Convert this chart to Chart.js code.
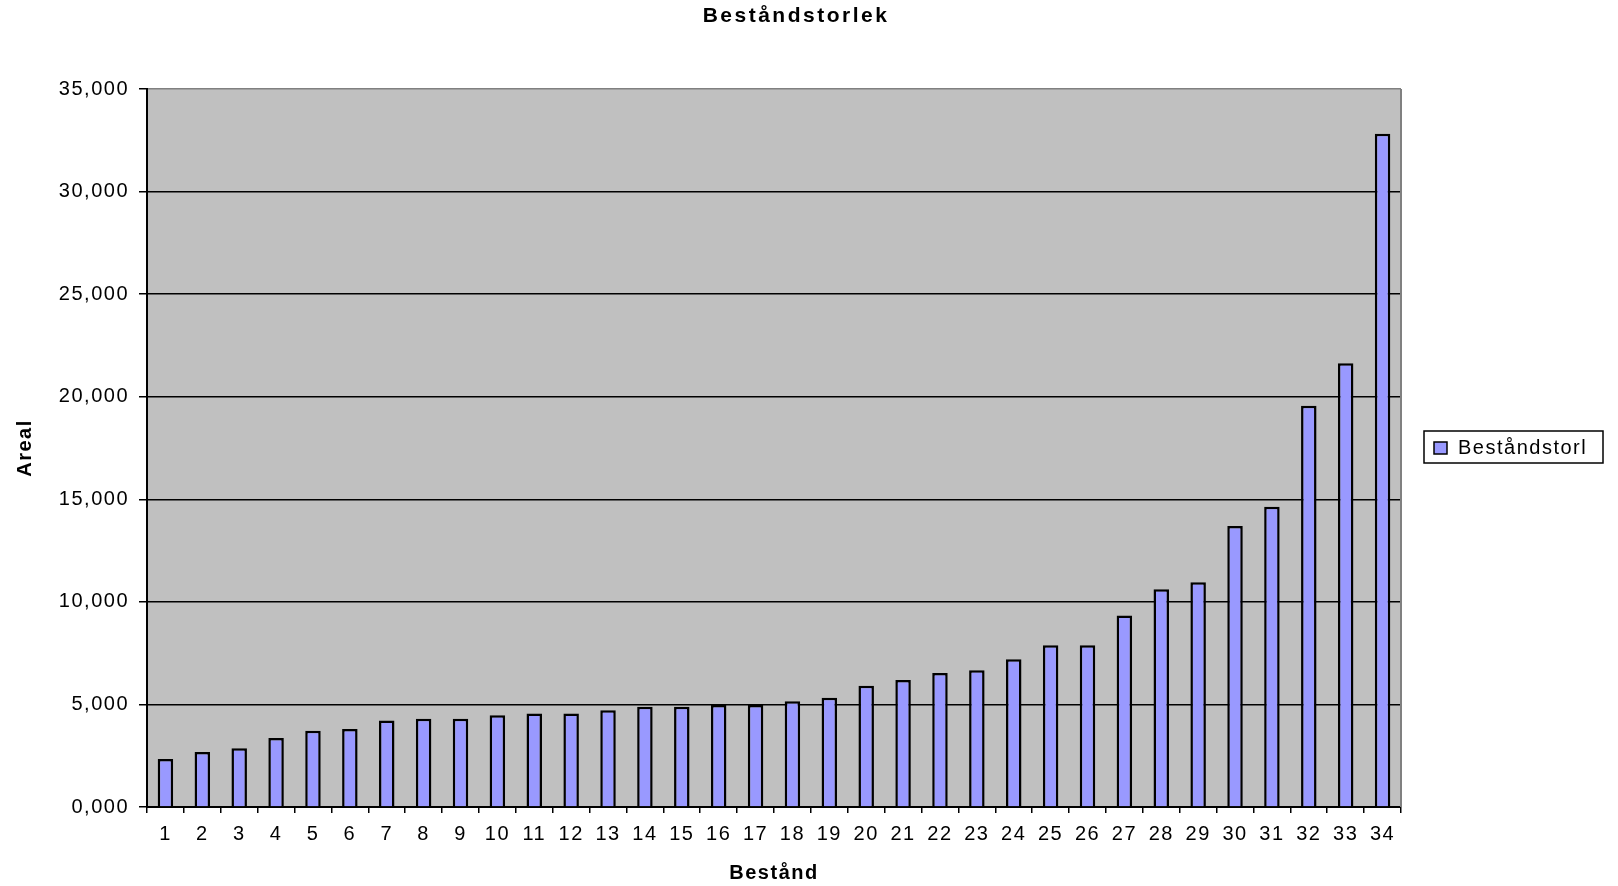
<!DOCTYPE html>
<html>
<head>
<meta charset="utf-8">
<title>Beståndstorlek</title>
<script src="https://cdn.jsdelivr.net/npm/chart.js@4.4.1/dist/chart.umd.min.js"></script>
<style>
  html, body { margin: 0; padding: 0; background: #fff; }
  #wrap { position: relative; width: 1618px; height: 886px; }
</style>
</head>
<body>
<div id="wrap"><canvas id="chart" width="1618" height="886"></canvas></div>
<script>
// --- data ---
const chartTitle = 'Beståndstorlek';
const seriesName = 'Beståndstorl';
const bestand = ['1','2','3','4','5','6','7','8','9','10','11','12','13','14','15','16','17',
                 '18','19','20','21','22','23','24','25','26','27','28','29','30','31','32','33','34'];
const areal = [2.34, 2.68, 2.86, 3.36, 3.72, 3.80, 4.22, 4.30, 4.30, 4.47, 4.56, 4.56,
               4.72, 4.89, 4.89, 4.97, 4.97, 5.16, 5.32, 5.91, 6.19, 6.53, 6.67, 7.20,
               7.88, 7.89, 9.34, 10.62, 10.95, 13.70, 14.64, 19.56, 21.63, 32.82];
const yTickValues = [0, 5, 10, 15, 20, 25, 30, 35];

const FONT = "'Liberation Sans', Arial, sans-serif";
const SPACING = '1.5px';

// excel-ish frame: grey plot fill, grey right border, title and boxed legend
const excelFrame = {
  id: 'excelFrame',
  beforeLayout(chart) { chart.ctx.letterSpacing = SPACING; },
  beforeDraw(chart) {
    const { ctx, chartArea: a } = chart;
    ctx.letterSpacing = SPACING;
    ctx.save();
    ctx.fillStyle = '#C0C0C0';
    ctx.fillRect(a.left, a.top, a.right - a.left, a.bottom - a.top);
    ctx.restore();
  },
  afterDraw(chart) {
    const { ctx, chartArea: a } = chart;
    ctx.save();
    ctx.strokeStyle = '#808080';
    ctx.lineWidth = 2;
    ctx.beginPath();
    ctx.moveTo(a.right, a.top);
    ctx.lineTo(a.right, a.bottom);
    ctx.stroke();

    // title
    ctx.fillStyle = '#000';
    ctx.font = `bold 21px ${FONT}`;
    ctx.letterSpacing = '2.5px';
    ctx.textAlign = 'center';
    ctx.textBaseline = 'middle';
    ctx.fillText(chartTitle, 796, 16);

    // legend
    const ds = chart.data.datasets[0];
    ctx.letterSpacing = SPACING;
    ctx.lineWidth = 1.5;
    ctx.strokeStyle = '#000';
    ctx.fillStyle = '#fff';
    ctx.fillRect(1424, 431, 179, 32);
    ctx.strokeRect(1424, 431, 179, 32);
    ctx.fillStyle = ds.backgroundColor;
    ctx.fillRect(1434, 442, 13, 12);
    ctx.strokeRect(1434, 442, 13, 12);
    ctx.fillStyle = '#000';
    ctx.font = `20px ${FONT}`;
    ctx.textAlign = 'left';
    ctx.fillText(ds.label, 1458, 448);
    ctx.restore();
  }
};

new Chart(document.getElementById('chart'), {
  type: 'bar',
  data: {
    labels: bestand,
    datasets: [{
      label: seriesName,
      data: areal,
      backgroundColor: '#9999FF',
      borderColor: '#000',
      borderWidth: 2.5,
      barPercentage: 0.42,
      categoryPercentage: 1
    }]
  },
  options: {
    responsive: false,
    animation: false,
    layout: { padding: { top: 89, right: 217, left: 0, bottom: 0 } },
    plugins: { legend: { display: false }, title: { display: false }, tooltip: { enabled: false } },
    scales: {
      x: {
        afterFit: (s) => { s.height = 79; },
        grid: { display: true, drawOnChartArea: false, offset: true, tickLength: 6, color: '#000', lineWidth: 1.5 },
        border: { color: '#000', width: 2 },
        ticks: { color: '#000', font: { family: FONT, size: 20 }, padding: 9, maxRotation: 0, autoSkip: false },
        title: { display: true, text: 'Bestånd', color: '#000', font: { family: FONT, size: 20, weight: 'bold' }, padding: { bottom: 1 } }
      },
      y: {
        min: 0,
        max: 35,
        afterFit: (s) => { s.width = 147; },
        afterBuildTicks: (s) => { s.ticks = yTickValues.map(v => ({ value: v })); },
        grid: {
          color: (c) => (c.tick && c.tick.value === 35 ? '#808080' : '#000'),
          tickColor: '#000',
          lineWidth: 1.5,
          tickLength: 8
        },
        border: { color: '#000', width: 2 },
        ticks: {
          color: '#000',
          font: { family: FONT, size: 20 },
          padding: 10,
          callback: (v) => Number(v).toFixed(3).replace('.', ',')
        },
        title: { display: true, text: 'Areal', color: '#000', font: { family: FONT, size: 20, weight: 'bold' }, padding: { top: 13 } }
      }
    }
  },
  plugins: [excelFrame]
});
</script>
</body>
</html>
